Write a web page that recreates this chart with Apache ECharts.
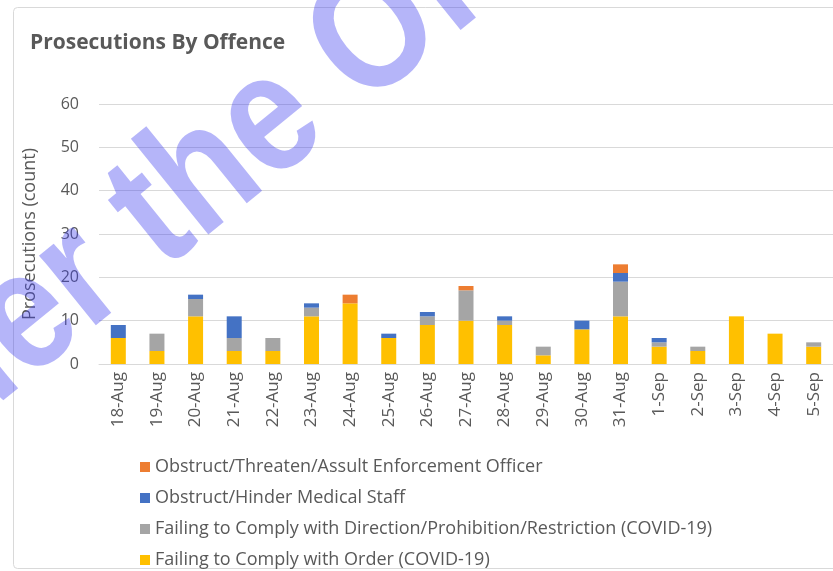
<!DOCTYPE html>
<html>
<head>
<meta charset="utf-8">
<script src="https://cdn.jsdelivr.net/npm/echarts@6/dist/echarts.min.js"></script>
<style>
  html, body { margin: 0; padding: 0; background: #fff; }
  #chart { width: 833px; height: 571px; }
</style>
</head>
<body>
<div id="chart"></div>
<script>
// 日期
const days = ['18-Aug', '19-Aug', '20-Aug', '21-Aug', '22-Aug', '23-Aug', '24-Aug', '25-Aug', '26-Aug', '27-Aug',
  '28-Aug', '29-Aug', '30-Aug', '31-Aug', '1-Sep', '2-Sep', '3-Sep', '4-Sep', '5-Sep']
// 各类罪名
const orderCounts = [6, 3, 11, 3, 3, 11, 14, 6, 9, 10, 9, 2, 8, 11, 4, 3, 11, 7, 4]
const directionCounts = [0, 4, 4, 3, 3, 2, 0, 0, 2, 7, 1, 2, 0, 8, 1, 1, 0, 0, 1]
const medicalCounts = [3, 0, 1, 5, 0, 1, 0, 1, 1, 0, 1, 0, 2, 2, 1, 0, 0, 0, 0]
const officerCounts = [0, 0, 0, 0, 0, 0, 2, 0, 0, 1, 0, 0, 0, 2, 0, 0, 0, 0, 0]
const yTicks = [0, 10, 20, 30, 40, 50, 60]

const names = {
  officer: 'Obstruct/Threaten/Assult Enforcement Officer',
  medical: 'Obstruct/Hinder Medical Staff',
  direction: 'Failing to Comply with Direction/Prohibition/Restriction (COVID-19)',
  order: 'Failing to Comply with Order (COVID-19)'
}

const font = '"Open Sans", Lato, sans-serif'
const textGrey = '#595959'

function barSeries (name, data, color) {
  return {
    name: name,
    type: 'bar',
    stack: 'total',
    barWidth: 15,
    data: data,
    itemStyle: { color: color }
  }
}

const myChart = echarts.init(document.getElementById('chart'))
myChart.setOption({
  animation: false,
  backgroundColor: '#fff',
  title: {
    text: 'Prosecutions By Offence',
    left: 25,
    top: 28,
    textStyle: { fontFamily: font, fontSize: 21, fontWeight: 'bold', color: textGrey }
  },
  legend: {
    orient: 'vertical',
    left: 140,
    top: 458,
    padding: 0,
    itemWidth: 10,
    itemHeight: 10,
    itemGap: 13,
    icon: 'rect',
    textStyle: { fontFamily: font, fontSize: 18, lineHeight: 18, color: textGrey },
    data: [names.officer, names.medical, names.direction, names.order]
  },
  grid: { left: 99, top: 104, width: 735, height: 260 },
  xAxis: {
    type: 'category',
    data: days,
    axisLine: { lineStyle: { color: '#d9d9d9', width: 1 } },
    axisTick: { show: false },
    axisLabel: { rotate: 90, fontFamily: font, fontSize: 17, color: textGrey, margin: 8, interval: 0 }
  },
  yAxis: {
    type: 'value',
    min: yTicks[0],
    max: yTicks[yTicks.length - 1],
    interval: 10,
    name: 'Prosecutions (count)',
    nameLocation: 'middle',
    nameGap: 60,
    nameTextStyle: { fontFamily: font, fontSize: 18, color: textGrey },
    axisLabel: { fontFamily: font, fontSize: 16, color: textGrey, margin: 20 },
    splitLine: { lineStyle: { color: '#d9d9d9', width: 1 } }
  },
  series: [
    barSeries(names.order, orderCounts, '#ffc000'),
    barSeries(names.direction, directionCounts, '#a5a5a5'),
    barSeries(names.medical, medicalCounts, '#4472c4'),
    barSeries(names.officer, officerCounts, '#ed7d31')
  ],
  graphic: [
    {
      type: 'rect',
      shape: { x: 13.5, y: 7.5, width: 840, height: 561, r: 4 },
      style: { fill: 'none', stroke: '#d9d9d9', lineWidth: 1 },
      z: -1
    },
    // 水印
    {
      type: 'text',
      x: -734,
      y: 937,
      scaleX: 0.85,
      rotation: 39 * Math.PI / 180,
      z: 100,
      silent: true,
      style: {
        text: 'Released under the Official Information Act',
        fontSize: 170,
        fontWeight: 'bold',
        fontFamily: '"Liberation Sans", Arial, sans-serif',
        fill: 'rgba(60,60,240,0.38)',
        textAlign: 'left',
        verticalAlign: 'middle'
      }
    }
  ]
})
</script>
</body>
</html>
